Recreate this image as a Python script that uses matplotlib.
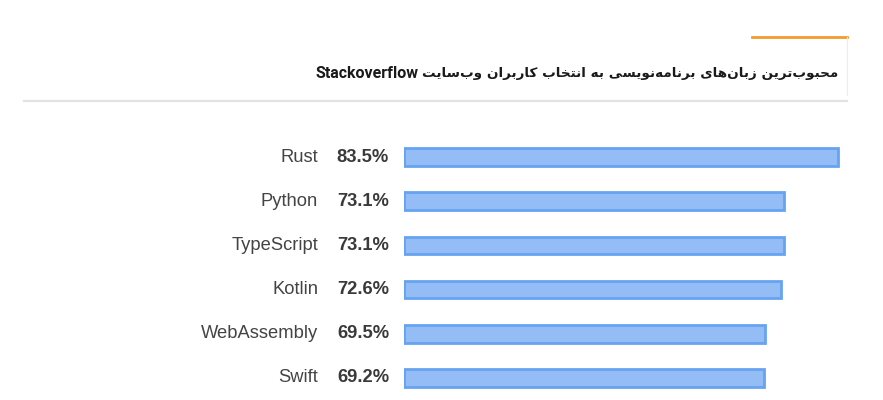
import matplotlib
matplotlib.use("Agg")
import matplotlib.pyplot as plt
from matplotlib.lines import Line2D

languages = ["Rust", "Python", "TypeScript", "Kotlin", "WebAssembly", "Swift"]
loved = [83.5, 73.1, 73.1, 72.6, 69.5, 69.2]
title_fa = "محبوب\u200cترین زبان\u200cهای برنامه\u200cنویسی به انتخاب کاربران وب\u200cسایت"
title_en = "Stackoverflow"

# matplotlib 3.10 has no Arabic shaping, so pick presentation forms by hand
# (isolated, final, initial, medial)
DUAL = {
    "ب": "\uFE8F\uFE90\uFE91\uFE92",
    "ت": "\uFE95\uFE96\uFE97\uFE98",
    "ح": "\uFEA1\uFEA2\uFEA3\uFEA4",
    "خ": "\uFEA5\uFEA6\uFEA7\uFEA8",
    "س": "\uFEB1\uFEB2\uFEB3\uFEB4",
    "م": "\uFEE1\uFEE2\uFEE3\uFEE4",
    "ن": "\uFEE5\uFEE6\uFEE7\uFEE8",
    "ه": "\uFEE9\uFEEA\uFEEB\uFEEC",
    "ی": "\uFBFC\uFBFD\uFBFE\uFBFF",
    "ک": "\uFB8E\uFB8F\uFB90\uFB91",
}
RIGHT = {
    "ا": "\uFE8D\uFE8E",
    "ر": "\uFEAD\uFEAE",
    "ز": "\uFEAF\uFEB0",
    "و": "\uFEED\uFEEE",
}


def shape_rtl(s):
    out = []
    for i, ch in enumerate(s):
        if ch not in DUAL and ch not in RIGHT:
            if ch != "\u200c":
                out.append(ch)
            continue
        prev = s[i - 1] if i > 0 else ""
        nxt = s[i + 1] if i + 1 < len(s) else ""
        join_prev = prev in DUAL
        join_next = ch in DUAL and (nxt in DUAL or nxt in RIGHT)
        if ch in RIGHT:
            out.append(RIGHT[ch][1 if join_prev else 0])
        elif join_prev and join_next:
            out.append(DUAL[ch][3])
        elif join_prev:
            out.append(DUAL[ch][1])
        elif join_next:
            out.append(DUAL[ch][2])
        else:
            out.append(DUAL[ch][0])
    return "".join(reversed(out))


W, H = 883, 400
fig = plt.figure(figsize=(W / 100, H / 100), dpi=100)
fig.patch.set_facecolor("white")

# header decorations
fig.add_artist(Line2D([752 / W, 847 / W], [1 - 37 / H, 1 - 37 / H],
                      color="#f39c2e", linewidth=2.0))
fig.add_artist(Line2D([847 / W, 847 / W], [1 - 37 / H, 1 - 95 / H],
                      color="#ececec", linewidth=0.8))
fig.add_artist(Line2D([24 / W, 847 / W], [1 - 101 / H, 1 - 101 / H],
                      color="#e3e3e3", linewidth=1.6))
# persian part and latin part drawn side by side (rtl: latin ends up on the left)
fig.text(838 / W, 1 - 74 / H, shape_rtl(title_fa),
         ha="right", va="center", fontsize=9.7, fontweight="bold",
         color="#1a1a1a", family=["DejaVu Sans"])
fig.text(419 / W, 1 - 74 / H, title_en,
         ha="right", va="center", fontsize=11.5, fontweight="bold",
         color="#1a1a1a", family=["Roboto", "DejaVu Sans"])

px_per_unit = 434 / 83.5
xmax = 85
ax = fig.add_axes([404 / W, 0, xmax * px_per_unit / W, 265 / H])
ax.set_xlim(0, xmax)
ax.set_ylim(len(languages) - 0.5, -0.5)
ax.axis("off")

ypos = list(range(len(languages)))
ax.barh(ypos, loved, height=0.4, left=0, color="#94bdf6",
        edgecolor="#67a3f1", linewidth=2.0)

tr = ax.get_yaxis_transform()
for y, name, val in zip(ypos, languages, loved):
    ax.text(-86 / (xmax * px_per_unit), y, name, transform=tr,
            ha="right", va="center", fontsize=13.2, color="#444444",
            family="Liberation Sans")
    ax.text(-15 / (xmax * px_per_unit), y, f"{val:.1f}%", transform=tr,
            ha="right", va="center", fontsize=13.2, fontweight="bold",
            color="#3a3a3a", family="Liberation Sans")

fig.savefig("out.png", dpi=100, facecolor="white")
